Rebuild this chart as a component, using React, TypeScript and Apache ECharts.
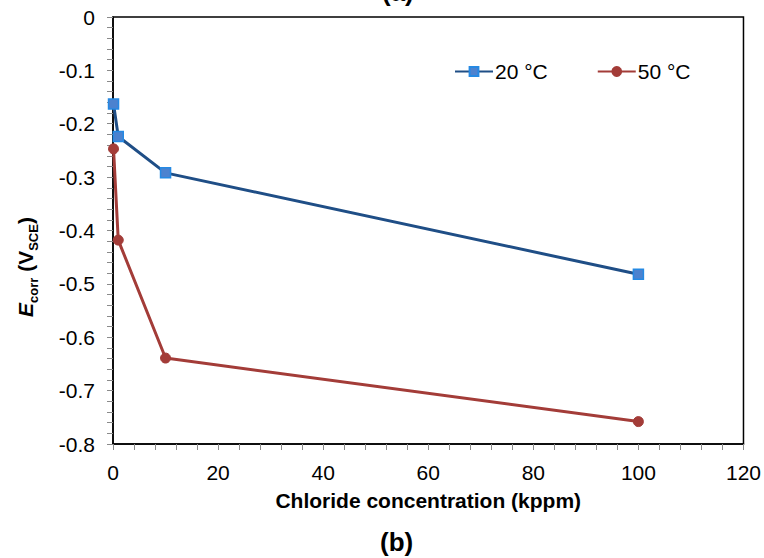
import React, { useEffect, useRef } from "react";
import * as echarts from "echarts";

const chlorideKppm = [0.1, 1, 10, 100];
const ecorr20C = [-0.163, -0.224, -0.292, -0.482];
const ecorr50C = [-0.247, -0.418, -0.639, -0.758];
const seriesNames = ["20 °C", "50 °C"];

const FONT = "'Liberation Sans', Arial, sans-serif";

export default function App() {
  const ref = useRef<HTMLDivElement>(null);

  useEffect(() => {
    if (!ref.current) return;
    const chart = echarts.init(ref.current, null, { renderer: "svg" });
    const pairs = (ys: number[]) => chlorideKppm.map((x, i) => [x, ys[i]]);

    chart.setOption({
      animation: false,
      backgroundColor: "#ffffff",
      textStyle: { fontFamily: FONT },
      grid: {
        left: 113,
        top: 17,
        right: 19,
        bottom: 114,
        show: true,
        borderColor: "#000000",
        borderWidth: 1.5,
        backgroundColor: "transparent",
      },
      legend: {
        left: 449,
        top: 56,
        itemWidth: 38,
        itemHeight: 11,
        itemGap: 49,
        textStyle: { fontSize: 21, color: "#000", fontFamily: FONT, padding: [0, 0, 0, -3] },
        data: seriesNames,
      },
      xAxis: {
        type: "value",
        min: 0,
        max: 120,
        interval: 20,
        name: "Chloride concentration (kppm)",
        nameLocation: "middle",
        nameGap: 46,
        nameTextStyle: { fontSize: 21, fontWeight: "bold", color: "#000", fontFamily: FONT },
        axisLine: { onZero: false, lineStyle: { color: "#000", width: 1.5 } },
        axisTick: { show: true, inside: false, length: 6, lineStyle: { color: "#8a8a8a" } },
        minorTick: { show: true, splitNumber: 5, length: 6, lineStyle: { color: "#8a8a8a" } },
        splitLine: { show: false },
        axisLabel: { fontSize: 21, color: "#000", margin: 18, fontFamily: FONT },
      },
      yAxis: {
        type: "value",
        min: -0.8,
        max: 0,
        interval: 0.1,
        axisLine: { onZero: false, lineStyle: { color: "#000", width: 1.5 } },
        axisTick: { show: true, inside: false, length: 6, lineStyle: { color: "#8a8a8a" } },
        minorTick: { show: true, splitNumber: 5, length: 6, lineStyle: { color: "#8a8a8a" } },
        splitLine: { show: false },
        axisLabel: {
          fontSize: 21,
          color: "#000",
          margin: 18,
          fontFamily: FONT,
          formatter: (v: number) => {
            const r = Math.round(v * 10) / 10;
            return r === 0 ? "0" : r.toFixed(1);
          },
        },
      },
      series: [
        {
          name: seriesNames[0],
          type: "line",
          data: pairs(ecorr20C),
          symbol: "rect",
          symbolSize: 10,
          lineStyle: { color: "#1f4e86", width: 3 },
          itemStyle: { color: "#4c82cf", borderColor: "#2589e3", borderWidth: 1.5 },
          z: 3,
        },
        {
          name: seriesNames[1],
          type: "line",
          data: pairs(ecorr50C),
          symbol: "circle",
          symbolSize: 10,
          lineStyle: { color: "#a33c38", width: 3 },
          itemStyle: { color: "#a33c38", borderColor: "#a33c38", borderWidth: 1 },
          z: 2,
        },
      ],
      graphic: [
        {
          type: "text",
          x: 23,
          y: 267,
          rotation: Math.PI / 2,
          style: {
            text: "{e|E}{s|corr}{n| (V}{s|SCE}{n|)}",
            align: "center",
            verticalAlign: "middle",
            rich: {
              e: { fontSize: 21, fontWeight: "bold", fontStyle: "italic", fill: "#000", fontFamily: FONT, lineHeight: 26, verticalAlign: "bottom" },
              n: { fontSize: 21, fontWeight: "bold", fill: "#000", fontFamily: FONT, lineHeight: 26, verticalAlign: "bottom" },
              s: { fontSize: 13, fontWeight: "bold", fill: "#000", fontFamily: FONT, lineHeight: 14, verticalAlign: "bottom", padding: [0, 0, -4, 0] },
            },
          },
        },
        {
          type: "text",
          left: 382,
          top: -21,
          style: { text: "(a)", fontSize: 26, fontWeight: "bold", fill: "#000", fontFamily: FONT },
        },
        {
          type: "text",
          left: 380,
          top: 529,
          style: { text: "(b)", fontSize: 26, fontWeight: "bold", fill: "#000", fontFamily: FONT },
        },
      ],
    });

    return () => chart.dispose();
  }, []);

  return <div ref={ref} style={{ width: 764, height: 558, position: "absolute", left: 0, top: 0 }} />;
}
